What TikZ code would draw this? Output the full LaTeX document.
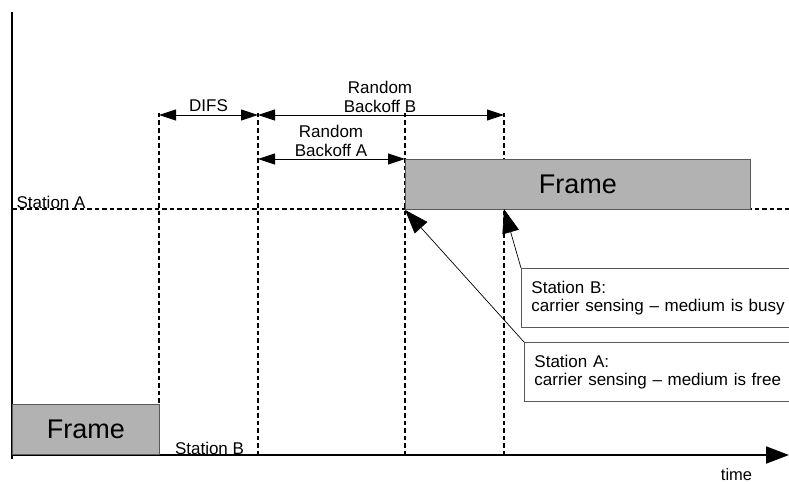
\documentclass[tikz,border=0pt]{standalone}
\usepackage{fontspec}
\setmainfont{Liberation Sans}
\usetikzlibrary{arrows.meta}

\tikzset{
  axis/.style={line width=1.8pt},
  guide/.style={line width=1.3pt, dash pattern=on 4.5pt off 3pt},
  span/.style={line width=0.9pt,
    {Triangle[length=17pt,width=11pt]}-{Triangle[length=17pt,width=11pt]}},
  framebox/.style={draw=black!65, fill=black!30, line width=0.9pt,
    font=\fontsize{27}{30}\selectfont, inner sep=0pt},
  lbl/.style={font=\fontsize{17}{19}\selectfont, inner sep=0pt, align=center},
  axislbl/.style={font=\fontsize{16.5}{18}\selectfont, inner sep=0pt},
  note/.style={draw=black!65, fill=white, line width=0.9pt,
    font=\fontsize{17}{18}\selectfont, align=left, anchor=north west,
    inner xsep=10pt, inner ysep=0pt, text width=262pt, minimum height=59pt},
  pointer/.style={line width=0.7pt, -{Triangle[length=24pt,width=17pt]}},
}

\begin{document}
\begin{tikzpicture}[x=1pt,y=-1pt]
\useasboundingbox (0,0) rectangle (789,484);

% instants on the time axis
\coordinate (t1top) at (159,113); \coordinate (t1bot) at (159,455);
\coordinate (t2top) at (258,113); \coordinate (t2bot) at (258,455);
\coordinate (t3top) at (405,113); \coordinate (t3bot) at (405,455);
\coordinate (t4top) at (504,113); \coordinate (t4bot) at (504,455);

% axes
\coordinate (origin) at (12,455);
\coordinate (ytop) at (12,12);
\coordinate (ybot) at (12,459);
\coordinate (xend) at (789,455);
\draw[axis] (ytop) -- (ybot);
\draw[axis, -{Triangle[length=23pt,width=17pt]}] (origin) -- (xend);
\node[axislbl, anchor=base] (time) at (736.5,480) {time};

% timeline of station A
\coordinate (lineA) at (12,209);
\coordinate (lineAend) at (789,209);
\draw[guide] (lineA) -- (lineAend);
\node[lbl] (stA) at (51,202.5) {Station A};
\node[lbl] (stB) at (209.5,448) {Station B};

% instant markers
\draw[guide] (t1top) -- (t1bot);
\draw[guide] (t2top) -- (t2bot);
\draw[guide] (t3top) -- (t3bot);
\draw[guide] (t4top) -- (t4bot);

% frames
\node[framebox, anchor=south west, minimum width=147pt, minimum height=50pt]
  (frameB) at (origin) {Frame};
\node[framebox, anchor=north west, minimum width=345pt, minimum height=50pt]
  (frameA) at (405,159) {Frame};

% interval spans
\coordinate (difsL) at (159,115); \coordinate (difsR) at (258,115);
\coordinate (bbL) at (258,115);   \coordinate (bbR) at (504,115);
\coordinate (baL) at (258,159);   \coordinate (baR) at (405,159);
\draw[span] (difsL) -- (difsR);
\draw[span] (bbL) -- (bbR);
\draw[span] (baL) -- (baR);
\node[lbl] (difs) at (208.5,106) {DIFS};
\node[lbl] (backB) at (380,96.5) {Random\\Backoff B};
\node[lbl] (backA) at (331,140.5) {Random\\Backoff A};

% carrier sensing notes
\node[note] (noteB) at (521,268) {Station B:\\carrier sensing -- medium is busy};
\node[note] (noteA) at (524,342) {Station A:\\carrier sensing -- medium is free};
\coordinate (senseB) at (504,209);
\draw[pointer] (noteB.north west) -- (senseB);
\draw[pointer] (noteA.north west) -- (frameA.south west);
\end{tikzpicture}
\end{document}
